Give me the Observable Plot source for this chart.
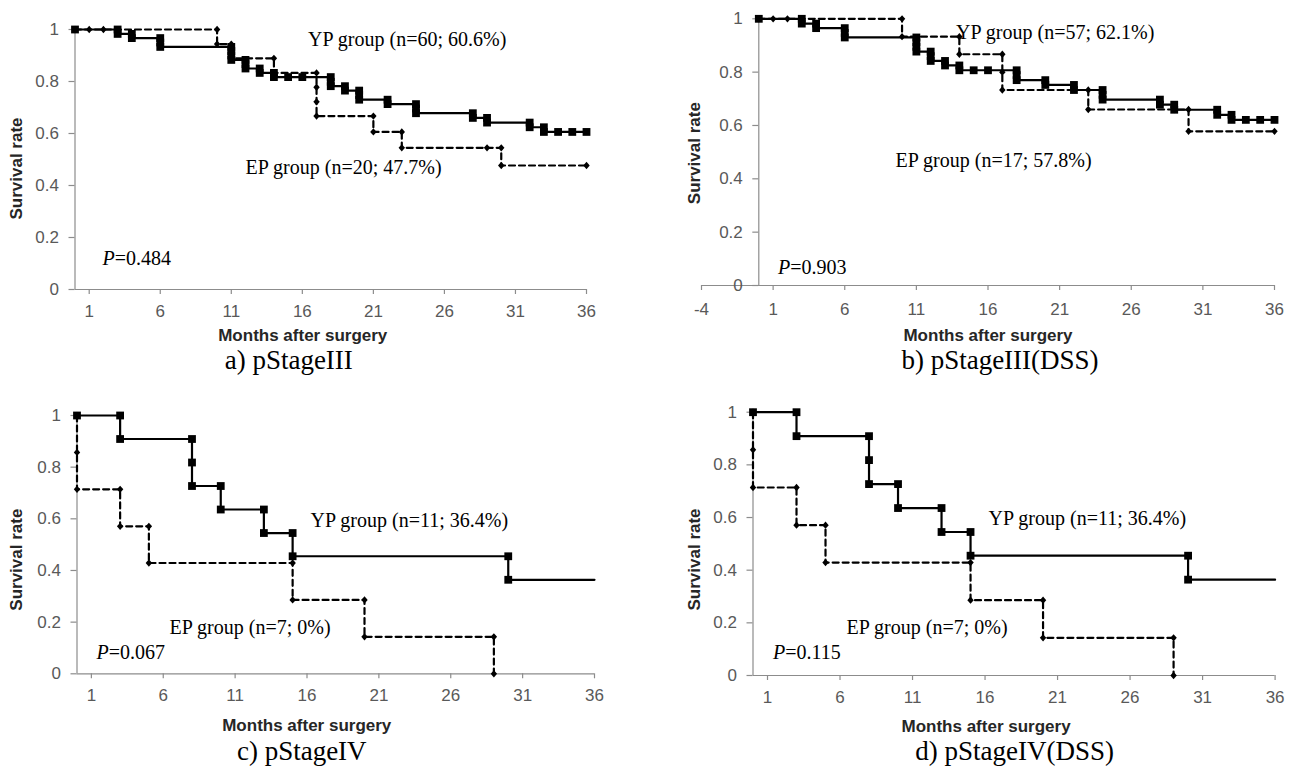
<!DOCTYPE html>
<html>
<head>
<meta charset="utf-8">
<script src="https://cdn.jsdelivr.net/npm/d3@7"></script>
<script src="https://cdn.jsdelivr.net/npm/@observablehq/plot@0.6"></script>
<style>
  html, body { margin: 0; padding: 0; background: #fff; }
  #root { position: relative; width: 1290px; height: 772px; overflow: hidden; background: #fff; }
  .panel { position: absolute; }
  .panel svg { overflow: visible; display: block; }
</style>
</head>
<body>
<div id="root"></div>
<script>
// ---------- data ----------
const xTicks = [1, 6, 11, 16, 21, 26, 31, 36];
const xTicksB = [-4, 1, 6, 11, 16, 21, 26, 31, 36];
const yTicks = [0, 0.2, 0.4, 0.6, 0.8, 1];
const yTickLabels = ["0", "0.2", "0.4", "0.6", "0.8", "1"];

const xTitle = "Months after surgery";
const yTitle = "Survival rate";
const captions = ["a) pStageIII", "b) pStageIII(DSS)", "c) pStageIV", "d) pStageIV(DSS)"];
const ypLabels = ["YP group (n=60; 60.6%)", "YP group (n=57; 62.1%)", "YP group (n=11; 36.4%)", "YP group (n=11; 36.4%)"];
const epLabels = ["EP group (n=20; 47.7%)", "EP group (n=17; 57.8%)", "EP group (n=7; 0%)", "EP group (n=7; 0%)"];
const pValues = ["0.484", "0.903", "0.067", "0.115"];

// a) pStageIII
const aYP_t = [0,3,3,4,4,6,6,6,11,11,11,11,12,12,12,13,13,14,14,15,16,18,18,18,19,19,20,20,20,22,22,24,24,24,28,28,29,29,32,32,33,33,34,35,36];
const aYP_s = [1,1,0.983,0.983,0.967,0.967,0.950,0.933,0.933,0.917,0.900,0.883,0.883,0.867,0.850,0.850,0.833,0.833,0.817,0.817,0.817,0.817,0.799,0.782,0.782,0.765,0.765,0.748,0.730,0.730,0.713,0.713,0.696,0.678,0.678,0.660,0.660,0.642,0.642,0.624,0.624,0.606,0.606,0.606,0.606];
const aEP_t = [0,1,2,10,10,11,11,14,14,17,17,17,17,21,21,23,23,29,30,30,36];
const aEP_s = [1,1,1,1,0.944,0.944,0.889,0.889,0.833,0.833,0.778,0.722,0.667,0.667,0.606,0.606,0.545,0.545,0.545,0.477,0.477];

// b) pStageIII(DSS)
const bYP_t = [0,3,3,4,4,6,6,6,11,11,11,11,12,12,12,13,13,14,14,15,16,18,18,18,20,20,22,22,24,24,24,28,28,29,29,32,32,33,33,34,35,36];
const bYP_s = [1,1,0.982,0.982,0.965,0.965,0.947,0.930,0.930,0.912,0.895,0.877,0.877,0.860,0.842,0.842,0.825,0.825,0.807,0.807,0.807,0.807,0.789,0.770,0.770,0.752,0.752,0.733,0.733,0.715,0.697,0.697,0.678,0.678,0.659,0.659,0.640,0.640,0.621,0.621,0.621,0.621];
const bEP_t = [0,1,2,10,10,14,14,17,17,17,23,23,29,30,30,36];
const bEP_s = [1,1,1,1,0.933,0.933,0.867,0.867,0.800,0.733,0.733,0.660,0.660,0.660,0.578,0.578];

// c) pStageIV
const cYP_t = [0,3,3,8,8,8,10,10,13,13,15,15,30,30];
const cYP_s = [1,1,0.909,0.909,0.818,0.727,0.727,0.636,0.636,0.545,0.545,0.455,0.455,0.364];
const cYP_end = 36;
const cEP_t = [0,0,0,3,3,5,5,15,15,20,20,29,29];
const cEP_s = [1,0.857,0.714,0.714,0.571,0.571,0.429,0.429,0.286,0.286,0.143,0.143,0];

// d) pStageIV(DSS)
const dYP_t = [0,3,3,8,8,8,10,10,13,13,15,15,30,30];
const dYP_s = [1,1,0.909,0.909,0.818,0.727,0.727,0.636,0.636,0.545,0.545,0.455,0.455,0.364];
const dYP_end = 36;
const dEP_t = [0,0,0,3,3,5,5,15,15,20,20,29,29];
const dEP_s = [1,0.857,0.714,0.714,0.571,0.571,0.429,0.429,0.286,0.286,0.143,0.143,0];

// ---------- layout ----------
const layout = [
  {left: 0, top: 0, width: 640, height: 380, mL: 74.5, mR: 54, mT: 29, mB: 91, xMin: 0, xt: xTicks, xPad: 10,
   xT: [-28, 46], yT: [-58, 9], cap: [-42, 79], yp: [233, 10], ep: [170.5, 137.7], p: [27.5, 229],
   ypT: aYP_t, ypS: aYP_s, ypEnd: null, epT: aEP_t, epS: aEP_s},
  {left: 640, top: 0, width: 650, height: 380, mL: 61, mR: 16, mT: 18.3, mB: 95, xMin: -4, xt: xTicksB, xPad: 12,
   xT: [0, 50], yT: [-7, 1], cap: [12, 83], yp: [254.5, 13.4], ep: [194, 141.7], p: [76.5, 248.7],
   ypT: bYP_t, ypS: bYP_s, ypEnd: null, epT: bEP_t, epS: bEP_s},
  {left: 0, top: 380, width: 640, height: 392, mL: 76.5, mR: 46, mT: 35, mB: 98.7, xMin: 0, xt: xTicks, xPad: 10.5,
   xT: [-29, 52], yT: [-60, 15], cap: [-34, 86], yp: [233.5, 105], ep: [92.5, 211.7], p: [19.5, 236.7],
   ypT: cYP_t, ypS: cYP_s, ypEnd: cYP_end, epT: cEP_t, epS: cEP_s},
  {left: 640, top: 380, width: 650, height: 392, mL: 112.5, mR: 15.4, mT: 31.7, mB: 97, xMin: 0, xt: xTicks, xPad: 10.5,
   xT: [-28, 51], yT: [-58.5, 15.6], cap: [0.5, 84], yp: [235.5, 106.3], ep: [93.5, 215], p: [20, 240],
   ypT: dYP_t, ypS: dYP_s, ypEnd: dYP_end, epT: dEP_t, epS: dEP_s}
];

const axisGray = "#8c8c8c";
const labelGray = "#595959";
const sans = "'Liberation Sans', Arial, sans-serif";
const serif = "'Liberation Serif', 'Times New Roman', serif";

const diamond = {
  draw(ctx, size) {
    const r = Math.sqrt(size / 2);
    const rx = r * 0.95, ry = r * 1.08;
    ctx.moveTo(0, -ry); ctx.lineTo(rx, 0); ctx.lineTo(0, ry); ctx.lineTo(-rx, 0); ctx.closePath();
  }
};

function makePanel(cfg, i) {
  const yp = cfg.ypT.map((t, k) => ({t, s: cfg.ypS[k]}));
  const ypLine = cfg.ypEnd != null ? yp.concat([{t: cfg.ypEnd, s: yp[yp.length - 1].s}]) : yp;
  const ep = cfg.epT.map((t, k) => ({t, s: cfg.epS[k]}));
  const innerW = cfg.width - cfg.mL - cfg.mR;
  const zeroDx = (0 - cfg.xMin) / (36 - cfg.xMin) * innerW;
  const annot = {fontFamily: serif, fontSize: 20, fill: "#000", textAnchor: "start", lineAnchor: "middle", frameAnchor: "top-left"};

  return Plot.plot({
    width: cfg.width,
    height: cfg.height,
    marginLeft: cfg.mL,
    marginRight: cfg.mR,
    marginTop: cfg.mT,
    marginBottom: cfg.mB,
    x: {domain: [cfg.xMin, 36], axis: null},
    y: {domain: [0, 1], axis: null},
    style: {fontFamily: sans, fontSize: "17px", background: "transparent", overflow: "visible"},
    marks: [
      Plot.ruleY([0], {stroke: axisGray, strokeWidth: 1.2}),
      Plot.ruleX([0], {stroke: axisGray, strokeWidth: 1.2}),
      Plot.axisX({ticks: cfg.xt, tickSize: 5, tickPadding: cfg.xPad, tickFormat: d => String(d), label: null,
                  stroke: axisGray, fill: labelGray, fontSize: 17, strokeWidth: 1.2}),
      Plot.axisY({ticks: yTicks, tickSize: 6, tickPadding: 10, tickFormat: d => yTickLabels[yTicks.indexOf(d)], label: null,
                  dx: zeroDx, stroke: axisGray, fill: labelGray, fontSize: 17, strokeWidth: 1.2}),
      // curves
      Plot.line(ypLine, {x: "t", y: "s", stroke: "#000", strokeWidth: 2.2, curve: "linear"}),
      Plot.dot(yp, {x: "t", y: "s", symbol: "square", r: 4.4, fill: "#000", stroke: "none"}),
      Plot.line(ep, {x: "t", y: "s", stroke: "#000", strokeWidth: 2.2, strokeDasharray: "6,4", curve: "linear"}),
      Plot.dot(ep, {x: "t", y: "s", symbol: diamond, r: 2.7, fill: "#000", stroke: "none"}),
      // axis titles
      Plot.text([xTitle], {text: d => d, frameAnchor: "bottom", dx: cfg.xT[0], dy: cfg.xT[1], fontWeight: "bold",
                           fontSize: 17, fill: "#262626", textAnchor: "middle", lineAnchor: "middle"}),
      Plot.text([yTitle], {text: d => d, frameAnchor: "left", dx: cfg.yT[0], dy: cfg.yT[1], rotate: -90, fontWeight: "bold",
                           fontSize: 17, fill: "#262626", textAnchor: "middle", lineAnchor: "middle"}),
      // annotations
      Plot.text([ypLabels[i]], {text: d => d, dx: cfg.yp[0], dy: cfg.yp[1], ...annot}),
      Plot.text([epLabels[i]], {text: d => d, dx: cfg.ep[0], dy: cfg.ep[1], ...annot}),
      Plot.text(["P"], {text: d => d, dx: cfg.p[0], dy: cfg.p[1], fontStyle: "italic", ...annot}),
      Plot.text([pValues[i]], {text: d => "=" + d, dx: cfg.p[0] + 12.2, dy: cfg.p[1], ...annot}),
      // caption
      Plot.text([captions[i]], {text: d => d, frameAnchor: "bottom", dx: cfg.cap[0], dy: cfg.cap[1],
                                fontFamily: serif, fontSize: 27, fill: "#000", textAnchor: "middle", lineAnchor: "bottom"})
    ]
  });
}

const root = document.getElementById("root");
layout.forEach((cfg, i) => {
  const div = document.createElement("div");
  div.className = "panel";
  div.style.left = cfg.left + "px";
  div.style.top = cfg.top + "px";
  div.appendChild(makePanel(cfg, i));
  root.appendChild(div);
});
</script>
</body>
</html>
